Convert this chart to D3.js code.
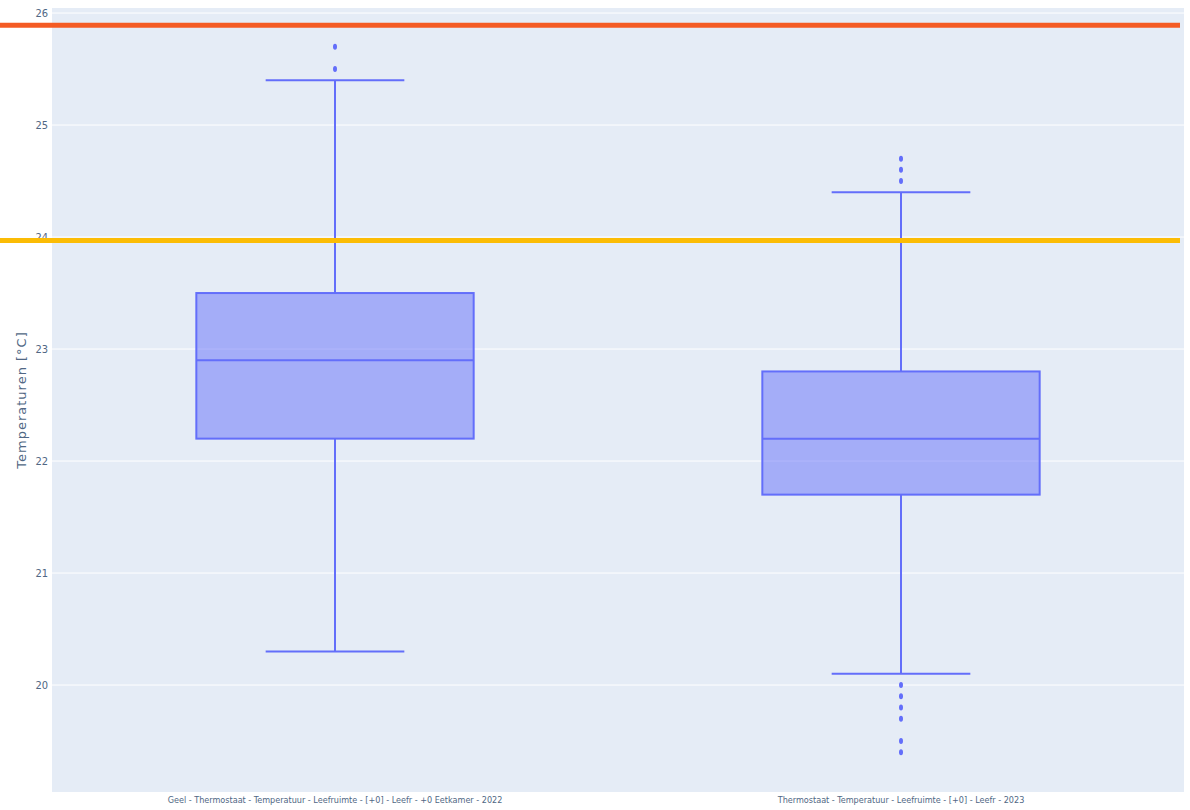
<!DOCTYPE html>
<html>
<head>
<meta charset="utf-8">
<script src="https://cdn.jsdelivr.net/npm/d3@7"></script>
<style>
  body { margin: 0; background: #fff; }
  svg { display: block; }
</style>
</head>
<body>
<div id="chart"></div>
<script>
// Box plot of thermostat temperatures, two rooms / years

const categories = [
  "Geel - Thermostaat - Temperatuur - Leefruimte - [+0] - Leefr - +0 Eetkamer - 2022",
  "Thermostaat - Temperatuur - Leefruimte - [+0] - Leefr - 2023"
];
const lowerFence = [20.3, 20.1];
const q1 = [22.2, 21.7];
const median = [22.9, 22.2];
const q3 = [23.5, 22.8];
const upperFence = [25.4, 24.4];
const outliers = [
  [25.5, 25.7],
  [24.5, 24.6, 24.7, 20.0, 19.9, 19.8, 19.7, 19.5, 19.4]
];
const yTicks = [20, 21, 22, 23, 24, 25, 26];
const thresholds = [
  {value: 25.89, color: "#f45b24"},
  {value: 23.97, color: "#fbbc05"}
];

const W = 1190, H = 810;
const margin = {top: 8, right: 6, bottom: 18, left: 52};
const width = W - margin.left - margin.right,
      height = H - margin.top - margin.bottom;
const narrow = "'Liberation Sans Narrow', 'DejaVu Sans Condensed', sans-serif";

const svg = d3.select("#chart")
  .append("svg")
  .attr("width", W)
  .attr("height", H);

const g = svg.append("g")
  .attr("transform", `translate(${margin.left},${margin.top})`);

// scales
const x = d3.scaleBand()
  .domain(categories)
  .range([0, width])
  .padding(0);

const y = d3.scaleLinear()
  .domain([19.045, 26.045])
  .range([height, 0]);

// background
g.append("rect")
  .attr("width", width)
  .attr("height", height)
  .attr("fill", "#e5ecf6");

// grid
g.append("g")
  .selectAll("line")
  .data(yTicks)
  .join("line")
  .attr("x1", 0)
  .attr("x2", width)
  .attr("y1", d => y(d))
  .attr("y2", d => y(d))
  .attr("stroke", "#fff")
  .attr("stroke-width", 1);

// y axis
const yAxis = g.append("g")
  .call(d3.axisLeft(y).tickValues(yTicks).tickFormat(d3.format("d")).tickSize(0).tickPadding(4));
yAxis.select(".domain").remove();
yAxis.selectAll("text")
  .style("font-family", narrow)
  .style("font-size", "11px")
  .attr("fill", "#506784");

// x axis
const xAxis = g.append("g")
  .attr("transform", `translate(0,${height})`)
  .call(d3.axisBottom(x).tickSize(0).tickPadding(5));
xAxis.select(".domain").remove();
xAxis.selectAll("text")
  .style("font-family", narrow)
  .style("font-size", "9px")
  .attr("fill", "#506784");

// y axis title
svg.append("text")
  .attr("transform", `translate(26,400) rotate(-90)`)
  .attr("text-anchor", "middle")
  .style("font-family", "'DejaVu Sans', Verdana, sans-serif")
  .style("font-size", "13px")
  .style("letter-spacing", "1px")
  .attr("fill", "#506784")
  .text("Temperaturen [°C]");

// boxes
const boxColor = "#636efa";
const boxW = x.bandwidth() * 0.49;
const capW = boxW / 2;

const boxes = g.selectAll(".box")
  .data(categories.map((c, i) => ({
    cat: c, lo: lowerFence[i], q1: q1[i], med: median[i], q3: q3[i],
    hi: upperFence[i], out: outliers[i]
  })))
  .join("g")
  .attr("class", "box")
  .attr("transform", d => `translate(${x(d.cat) + x.bandwidth() / 2},0)`);

// whiskers
boxes.append("line")
  .attr("x1", 0).attr("x2", 0)
  .attr("y1", d => y(d.hi)).attr("y2", d => y(d.q3))
  .attr("stroke", boxColor).attr("stroke-width", 2);
boxes.append("line")
  .attr("x1", 0).attr("x2", 0)
  .attr("y1", d => y(d.q1)).attr("y2", d => y(d.lo))
  .attr("stroke", boxColor).attr("stroke-width", 2);
boxes.append("line")
  .attr("x1", -capW / 2).attr("x2", capW / 2)
  .attr("y1", d => y(d.hi)).attr("y2", d => y(d.hi))
  .attr("stroke", boxColor).attr("stroke-width", 2);
boxes.append("line")
  .attr("x1", -capW / 2).attr("x2", capW / 2)
  .attr("y1", d => y(d.lo)).attr("y2", d => y(d.lo))
  .attr("stroke", boxColor).attr("stroke-width", 2);

// box body
boxes.append("rect")
  .attr("x", -boxW / 2)
  .attr("width", boxW)
  .attr("y", d => y(d.q3))
  .attr("height", d => y(d.q1) - y(d.q3))
  .attr("fill", boxColor)
  .attr("fill-opacity", 0.5)
  .attr("stroke", boxColor)
  .attr("stroke-width", 2);

// median
boxes.append("line")
  .attr("x1", -boxW / 2).attr("x2", boxW / 2)
  .attr("y1", d => y(d.med)).attr("y2", d => y(d.med))
  .attr("stroke", boxColor).attr("stroke-width", 2);

// outliers
boxes.selectAll(".pt")
  .data(d => d.out)
  .join("ellipse")
  .attr("class", "pt")
  .attr("cx", 0)
  .attr("cy", d => y(d))
  .attr("rx", 2)
  .attr("ry", 3)
  .attr("fill", boxColor);

// threshold lines
svg.selectAll(".thr")
  .data(thresholds)
  .join("line")
  .attr("class", "thr")
  .attr("x1", 0)
  .attr("x2", 1180)
  .attr("y1", d => margin.top + y(d.value))
  .attr("y2", d => margin.top + y(d.value))
  .attr("stroke", d => d.color)
  .attr("stroke-width", 5);
</script>
</body>
</html>
